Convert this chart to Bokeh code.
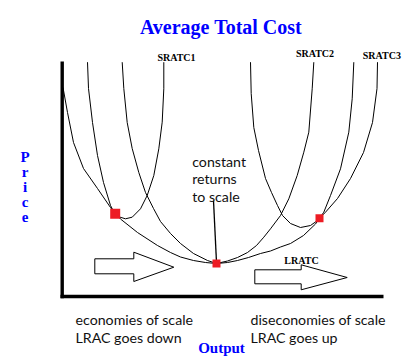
from bokeh.plotting import figure
from bokeh.models import Range1d, ColumnDataSource
from bokeh.core.properties import value
from bokeh.embed import file_html
from bokeh.resources import INLINE

# ---------------- data (Output q, Cost c) ----------------
lratc_q = [0.5, 5, 11, 21, 35, 48, 52.5, 58, 75, 95, 108, 118, 131, 143, 154, 165, 175, 186, 198, 208, 218, 228, 241, 253, 257, 263, 275, 288, 301, 310, 314.5, 315]
lratc_c = [209, 184, 154, 128, 108, 89, 83, 77.5, 64, 51, 44, 39.5, 36, 34, 33, 34, 36, 39, 43, 45.5, 49.5, 53, 61, 72.5, 78.3, 84.3, 98, 118, 144, 174, 208, 234.3]

sratc1_q = [25, 26, 30, 35, 41, 48, 52, 57, 63, 69.7, 78, 84.7, 91.3, 96.3, 99.7, 101.3, 101.3]
sratc1_c = [234.3, 208, 174, 141, 114, 91, 83.5, 79.5, 77.7, 79.3, 87.7, 101, 121, 147.7, 174.3, 207.7, 234.3]

sratc2_q = [59.7, 61.3, 64.7, 69.7, 76.3, 83, 91, 98, 108, 118, 131, 145, 154, 165, 175, 185, 194, 201.3, 208, 218, 226.3, 234.7, 241.3, 246.3, 249.7, 251.3]
sratc2_c = [234.3, 208, 174, 148, 124, 104, 88, 75, 63, 53, 43, 36, 33, 35.5, 39, 44, 51, 59.3, 67.7, 81, 97.7, 121, 144.3, 164.3, 207.7, 234.3]

sratc3_q = [188, 188.7, 191.3, 196, 203, 209, 215, 220, 228, 238, 248, 255, 257, 261.3, 268, 278, 286.3, 289.7, 291.3]
sratc3_c = [234.3, 203, 169, 146, 118, 104, 91, 81, 73, 69, 71, 76, 78.3, 84.3, 101, 127.7, 164.3, 197.7, 234.3]

tangent_q = [52.7, 154, 257]
tangent_c = [82.7, 33, 78.3]

curve_labels = ["SRATC1", "SRATC2", "SRATC3", "LRATC"]
title_text = "Average Total Cost"
y_label = "Price"
x_label = "Output"
note_lines = ["constant", "returns", "to scale"]
left_lines = ["economies of scale", "LRAC goes down"]
right_lines = ["diseconomies of scale", "LRAC goes up"]

# arrow outlines (decorative)
arrow_left_q = [32.3, 71.3, 71.3, 111.3, 71.3, 71.3, 32.3]
arrow_left_c = [37.7, 37.7, 44.3, 29.3, 15, 22.7, 22.7]
arrow_right_q = [192.3, 238.7, 238.7, 284.7, 238.7, 238.7, 192.3]
arrow_right_c = [26.7, 26.7, 31.7, 19, 6.7, 12.7, 12.7]

# ---------------- figure ----------------
p = figure(width=411, height=356, x_range=Range1d(-62, 349), y_range=Range1d(-60, 296),
           output_backend="svg", toolbar_location=None, min_border=0,
           x_axis_location=None, y_axis_location=None)
p.grid.visible = False
p.outline_line_color = None
p.background_fill_color = "white"
p.border_fill_color = "white"

BLUE = "#0000FF"
RED = "#ED1C24"
SERIF = value("Liberation Serif")
SANS = value("Lato")

# axes lines
p.line([-0.3, -0.3], [-1.7, 235], line_color="black", line_width=3.4)
p.line([-2, 321], [0, 0], line_color="black", line_width=3.4)

# curves
for qs, cs in [(lratc_q, lratc_c), (sratc1_q, sratc1_c), (sratc2_q, sratc2_c), (sratc3_q, sratc3_c)]:
    p.line(qs, cs, line_color="black", line_width=1)

# arrows
p.patch(arrow_left_q, arrow_left_c, fill_color="white", line_color="black", line_width=1)
p.patch(arrow_right_q, arrow_right_c, fill_color="white", line_color="black", line_width=1)

# leader line to constant returns point
p.line([151, tangent_q[1]], [96, tangent_c[1] + 1], line_color="black", line_width=1.3)

# tangency points
marker_sizes = [10, 8, 8]
p.scatter(tangent_q, tangent_c, marker="square", size=marker_sizes, fill_color=RED, line_color=None)

# title
p.text([158.5], [270], text=[title_text], text_font=SERIF, text_font_style="bold",
       text_font_size="20px", text_color=BLUE, text_align="center", text_baseline="alphabetic")

# curve labels
p.text([114, 252.5, 319.3, 239], [238.7, 242.7, 241, 36], text=curve_labels, text_font=SERIF,
       text_font_style="bold", text_font_size="10px", text_color="black",
       text_align="center", text_baseline="alphabetic")

# y label stacked letters
letters = list(y_label)
p.text([-37.5] * len(letters), [140 - 15.2 * i for i in range(len(letters))], text=letters,
       text_font=SERIF, text_font_style="bold", text_font_size="15px", text_color=BLUE,
       text_align="center", text_baseline="alphabetic")

# x label
p.text([159], [-51], text=[x_label], text_font=SERIF, text_font_style="bold",
       text_font_size="15px", text_color=BLUE, text_align="center", text_baseline="alphabetic")

# notes
p.text([129.7] * 3, [135.5, 118, 100.5], text=note_lines, text_font=SANS, text_font_size="14.2px",
       text_color="#111111", text_align="left", text_baseline="alphabetic")
p.text([13, 13], [-23.3, -40.7], text=left_lines, text_font=SANS, text_font_size="14.2px",
       text_color="#111111", text_align="left", text_baseline="alphabetic")
p.text([188, 188], [-23.3, -40.7], text=right_lines, text_font=SANS, text_font_size="14.2px",
       text_color="#111111", text_align="left", text_baseline="alphabetic")

open("out.html", "w").write(file_html(p, INLINE))
